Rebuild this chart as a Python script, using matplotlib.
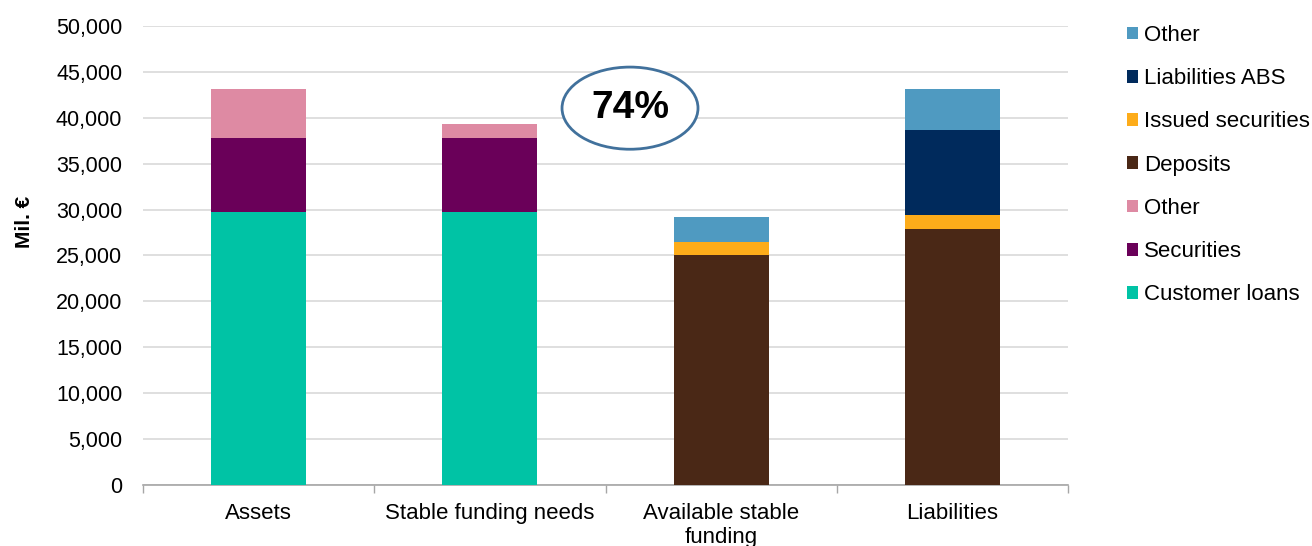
import matplotlib
matplotlib.use("Agg")
import matplotlib.pyplot as plt
from matplotlib.patches import Ellipse, Patch
from matplotlib.ticker import FuncFormatter, FixedLocator
import numpy as np

plt.rcParams['font.family'] = ['Liberation Sans', 'DejaVu Sans']

categories = ["Assets", "Stable funding needs", "Available stable\nfunding", "Liabilities"]

# stacked components (Mil. €), bottom to top
customer_loans = [29710, 29710, 0, 0]
securities = [8080, 8080, 0, 0]
other_assets = [5325, 1490, 0, 0]
deposits = [0, 0, 25080, 27930]
issued_securities = [0, 0, 1370, 1450]
liabilities_abs = [0, 0, 0, 9280]
other_liabilities = [0, 0, 2790, 4455]

ratio_label = "74%"

series = [
    ("Customer loans", customer_loans, "#00C3A5"),
    ("Securities", securities, "#6A0059"),
    ("Other", other_assets, "#DE8AA3"),
    ("Deposits", deposits, "#4A2816"),
    ("Issued securities", issued_securities, "#FDAC1A"),
    ("Liabilities ABS", liabilities_abs, "#002A5C"),
    ("Other", other_liabilities, "#4F9AC1"),
]

fig = plt.figure(figsize=(13.12, 5.46), dpi=100)
ax = fig.add_axes([143 / 1312, 1 - 485 / 546, 925 / 1312, 459 / 546])

x = np.arange(len(categories))
bottom = np.zeros(len(categories))
for name, vals, color in series:
    vals = np.array(vals, dtype=float)
    ax.bar(x, vals, bottom=bottom, width=0.41, color=color, zorder=3, linewidth=0)
    bottom += vals

ax.set_xlim(-0.5, len(categories) - 0.5)
ax.set_ylim(0, 50000)
ax.set_yticks(np.arange(0, 50001, 5000))
ax.yaxis.set_major_formatter(FuncFormatter(lambda v, p: f"{int(v):,}"))
ax.grid(axis="y", color="#D9D9D9", linewidth=1.2, zorder=0)
ax.tick_params(axis="y", length=0, pad=15, labelsize=15.5, labelcolor="#000000")

ax.set_xticks(x)
ax.set_xticklabels(categories, fontsize=16)
ax.tick_params(axis="x", which="major", length=0, pad=13)
ax.xaxis.set_minor_locator(FixedLocator(np.arange(-0.5, len(categories), 1.0)))
ax.tick_params(axis="x", which="minor", length=6, width=1, color="#A6A6A6", direction="out")

for s in ["top", "right", "left"]:
    ax.spines[s].set_visible(False)
ax.spines["bottom"].set_color("#A6A6A6")
ax.spines["bottom"].set_linewidth(1.2)

ax.set_ylabel("Mil. €", fontsize=15, fontweight="bold")
ax.yaxis.set_label_coords(-0.118, 0.573)

# ratio bubble
ell = Ellipse((0.5265, 0.821), 0.147, 0.179, transform=ax.transAxes,
              facecolor="white", edgecolor="#41719C", linewidth=2, zorder=5)
ax.add_patch(ell)
ax.text(0.5265, 0.821, ratio_label, transform=ax.transAxes, ha="center", va="center",
        fontsize=28, fontweight="bold", zorder=6)

handles = [Patch(facecolor=c, edgecolor="none", label=n) for n, v, c in series][::-1]
fig.legend(handles=handles, loc="upper left", bbox_to_anchor=(1127 / 1312, 1 - 25 / 546),
           frameon=False, fontsize=16, handlelength=0.5, handleheight=0.5,
           handletextpad=0.25, labelspacing=1.0, borderaxespad=0, borderpad=0)

fig.savefig("out.png", dpi=100)
